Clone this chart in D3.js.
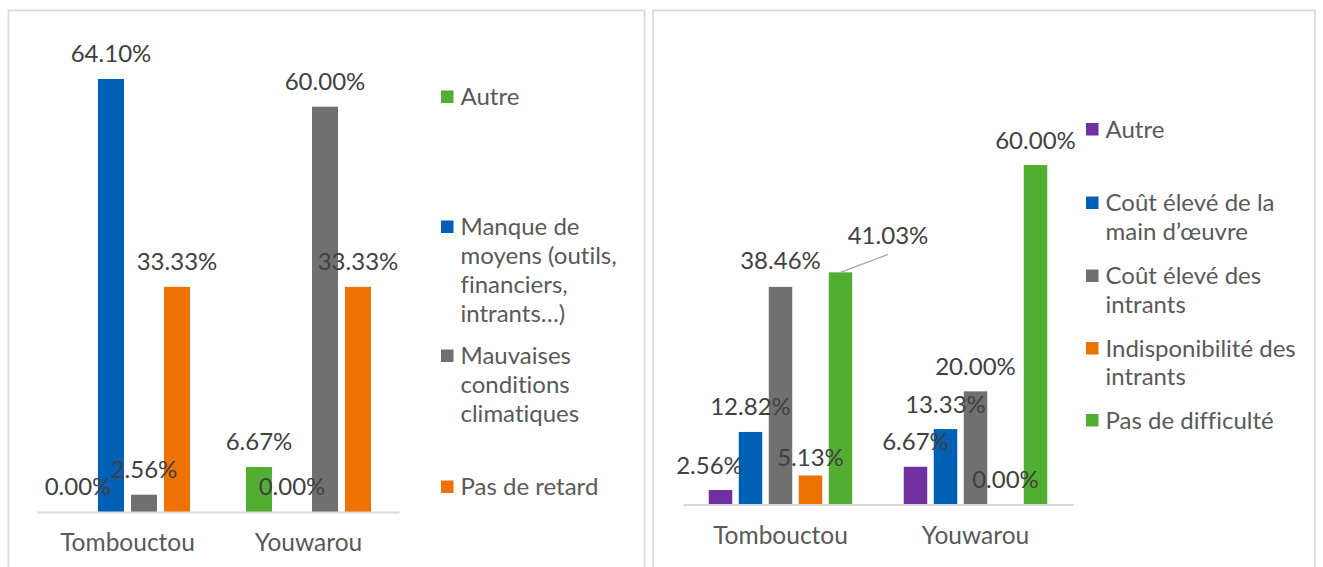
<!DOCTYPE html>
<html>
<head>
<meta charset="utf-8">
<script src="https://cdn.jsdelivr.net/npm/d3@7"></script>
<style>
  html, body { margin: 0; padding: 0; background: #fff; }
  svg { display: block; }
  text { font-family: Lato, "Open Sans", sans-serif; font-variant-ligatures: no-common-ligatures; font-feature-settings: "liga" 0, "clig" 0; }
</style>
</head>
<body>
<svg id="chart" width="1323" height="567"></svg>
<script>
// ---------- DATA ----------
const categories = ["Tombouctou", "Youwarou"];

// Left chart series (values in %)
const leftSeriesNames = ["Autre", "Manque de moyens (outils, financiers, intrants…)", "Mauvaises conditions climatiques", "Pas de retard"];
const leftAutre      = [0.00, 6.67];
const leftManque     = [64.10, 0.00];
const leftMauvaises  = [2.56, 60.00];
const leftPasRetard  = [33.33, 33.33];
const leftLegendLines = [["Autre"], ["Manque de", "moyens (outils,", "financiers,", "intrants…)"], ["Mauvaises", "conditions", "climatiques"], ["Pas de retard"]];

// Right chart series (values in %)
const rightSeriesNames = ["Autre", "Coût élevé de la main d’œuvre", "Coût élevé des intrants", "Indisponibilité des intrants", "Pas de difficulté"];
const rightAutre       = [2.56, 6.67];
const rightCoutMain    = [12.82, 13.33];
const rightCoutIntrants= [38.46, 20.00];
const rightIndispo     = [5.13, 0.00];
const rightPasDiff     = [41.03, 60.00];
const rightLegendLines = [["Autre"], ["Coût élevé de la", "main d’œuvre"], ["Coût élevé des", "intrants"], ["Indisponibilité des", "intrants"], ["Pas de difficulté"]];

const yMaxValue = 70;

// ---------- STYLE ----------
const C = { purple: "#7030A0", blue: "#0060B5", grey: "#707070", orange: "#EE7203", green: "#52AE32" };
const labelColor = "#404040";
const legendColor = "#595959";
const fontSize = 24;
const axisFontSize = 24.5;

const svg = d3.select("#chart");

// panel borders
svg.append("rect").attr("x", 8.5).attr("y", 10.5).attr("width", 636).attr("height", 600)
  .attr("fill", "none").attr("stroke", "#d9d9d9").attr("stroke-width", 1.75);
svg.append("rect").attr("x", 653).attr("y", 10.5).attr("width", 662).attr("height", 600)
  .attr("fill", "none").attr("stroke", "#d9d9d9").attr("stroke-width", 1.75);

function drawChart(cfg) {
  const g = svg.append("g");
  const x0 = d3.scaleBand().domain(categories).range([cfg.x0, cfg.x1]).paddingInner(0).paddingOuter(0);
  const n = cfg.series.length;
  const pIn = cfg.gap / cfg.step;
  const pOut = (x0.bandwidth() / cfg.step - n + pIn) / 2;
  const x1 = d3.scaleBand().domain(d3.range(n)).range([0, x0.bandwidth()]).paddingInner(pIn).paddingOuter(pOut);
  const y = d3.scaleLinear().domain([0, yMaxValue]).range([cfg.yBase, cfg.yTop]);

  const data = [];
  cfg.series.forEach((vals, si) => {
    categories.forEach((c, ci) => data.push({ c, ci, si, v: vals[ci] }));
  });

  g.selectAll("rect.bar").data(data).enter().append("rect")
    .attr("class", "bar")
    .attr("x", d => x0(d.c) + x1(d.si))
    .attr("width", x1.bandwidth())
    .attr("y", d => y(d.v))
    .attr("height", d => y(0) - y(d.v))
    .attr("fill", d => cfg.colors[d.si]);

  // axis baseline
  const axis = d3.axisBottom(x0).tickSize(0).tickPadding(0);
  const ag = g.append("g").attr("transform", `translate(0,${cfg.yBase})`).call(axis);
  ag.select(".domain").attr("stroke", "#d9d9d9").attr("stroke-width", 2);
  ag.selectAll(".tick text")
    .attr("font-family", "Lato, sans-serif")
    .attr("font-size", axisFontSize)
    .attr("fill", legendColor)
    .attr("dy", 0)
    .attr("y", cfg.catLabelY - cfg.yBase);

  // value labels
  g.selectAll("text.val").data(data).enter().append("text")
    .attr("class", "val")
    .attr("x", d => x0(d.c) + x1(d.si) + x1.bandwidth() / 2 + (cfg.adjust(d).dx || 0))
    .attr("y", d => y(d.v) - cfg.labelOffset + (cfg.adjust(d).dy || 0))
    .attr("text-anchor", "middle")
    .attr("font-size", fontSize)
    .attr("fill", labelColor)
    .text(d => d.v.toFixed(2) + "%");

  // leader lines
  data.forEach(d => {
    const a = cfg.adjust(d);
    if (a.leader) {
      const bx = x0(d.c) + x1(d.si) + x1.bandwidth() / 2;
      g.append("line")
        .attr("x1", bx).attr("y1", y(d.v))
        .attr("x2", bx + a.dx).attr("y2", y(d.v) - cfg.labelOffset + a.dy + 10)
        .attr("stroke", "#a6a6a6").attr("stroke-width", 1.2);
    }
  });

  // legend
  const lg = g.append("g");
  cfg.legendLines.forEach((lines, i) => {
    const by = cfg.legendY[i];
    lg.append("rect").attr("x", cfg.legendX).attr("y", by - 14.5)
      .attr("width", 12.5).attr("height", 12.5).attr("fill", cfg.colors[i]);
    const t = lg.append("text").attr("x", cfg.legendX + 19.5).attr("y", by)
      .attr("font-size", fontSize).attr("fill", legendColor);
    lines.forEach((ln, li) => {
      t.append("tspan").attr("x", cfg.legendX + 19.5).attr("y", by + li * cfg.lineH).text(ln);
    });
  });
}

drawChart({
  series: [leftAutre, leftManque, leftMauvaises, leftPasRetard],
  colors: [C.green, C.blue, C.grey, C.orange],
  x0: 37, x1: 399, step: 33, gap: 7,
  yBase: 512, yTop: 512 - 70 * 6.755,
  labelOffset: 17,
  catLabelY: 551,
  adjust: d => ({}),
  legendLines: leftLegendLines,
  legendX: 441,
  legendY: [105, 235, 364, 495],
  lineH: 29
});

drawChart({
  series: [rightAutre, rightCoutMain, rightCoutIntrants, rightIndispo, rightPasDiff],
  colors: [C.purple, C.blue, C.grey, C.orange, C.green],
  x0: 683, x1: 1073, step: 30, gap: 6.5,
  yBase: 504.5, yTop: 504.5 - 70 * 5.658,
  labelOffset: 16.5,
  catLabelY: 544,
  adjust: d => {
    if (d.ci === 0 && d.si === 0) return { dx: -11 };
    if (d.ci === 0 && d.si === 3) return { dy: 7.5 };
    if (d.ci === 0 && d.si === 2) return { dy: -1 };
    if (d.ci === 0 && d.si === 4) return { dx: 47.5, dy: -11.5, leader: true };
    return {};
  },
  legendLines: rightLegendLines,
  legendX: 1086,
  legendY: [137.5, 211, 284, 356.5, 428.5],
  lineH: 28.5
});
</script>
</body>
</html>
